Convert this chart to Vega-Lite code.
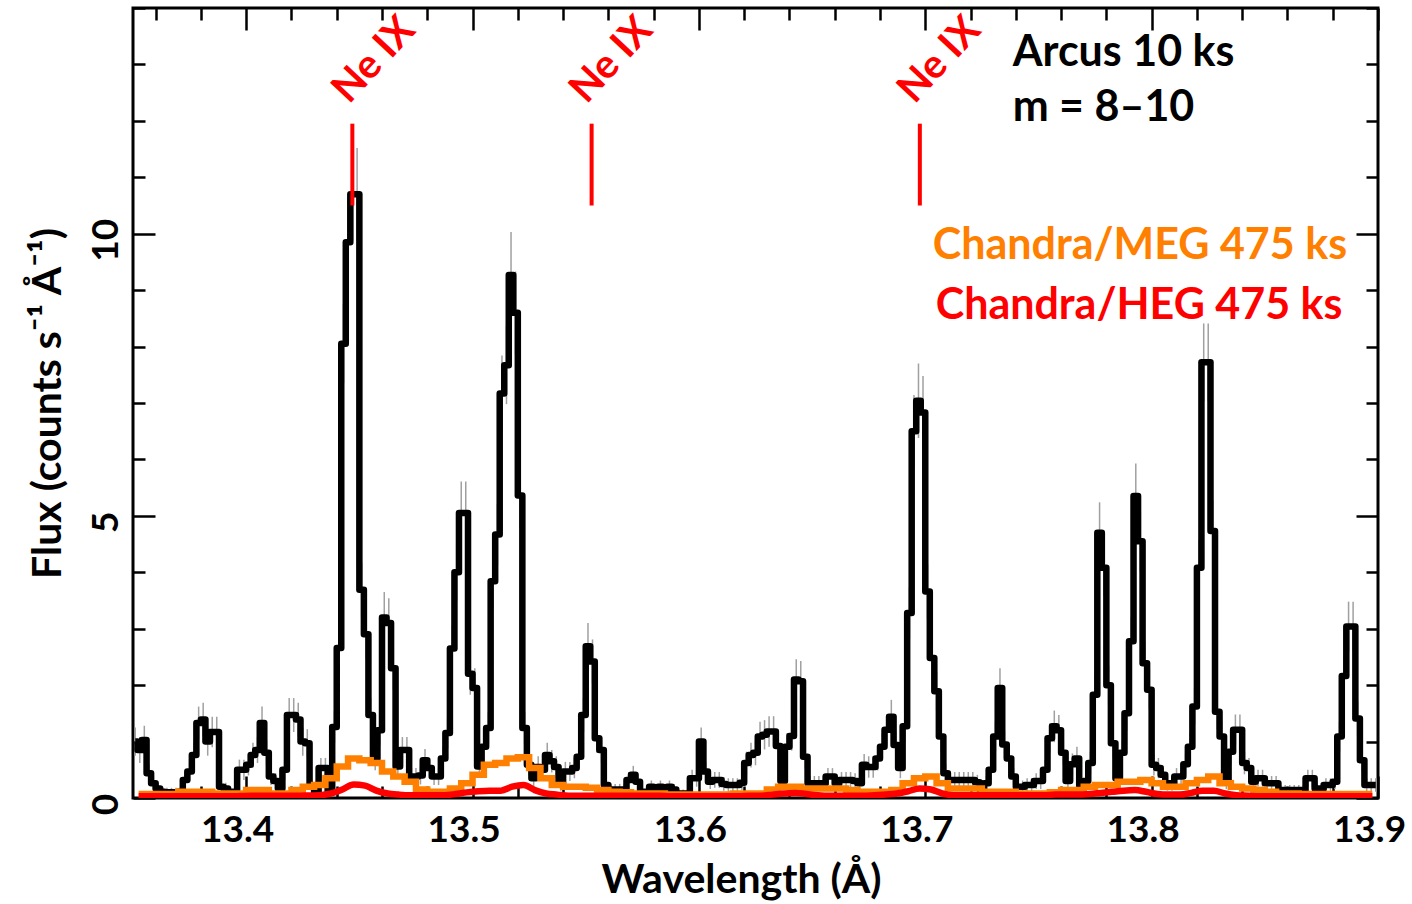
{
"$schema": "https://vega.github.io/schema/vega-lite/v6.json",
"width": 1245, "height": 790,
"autosize": {"type": "none"},
"padding": {"left": 133, "top": 8, "right": 34, "bottom": 106},
"background": "white",
"config": {
  "view": {"stroke": "black", "strokeWidth": 3},
  "axis": {"domain": false, "grid": false, "tickColor": "black", "tickWidth": 2.5,
    "labelFont": "Lato", "labelFontWeight": "bold", "labelFontSize": 37, "labelColor": "black",
    "titleFont": "Lato", "titleFontWeight": "bold", "titleFontSize": 41, "titleColor": "black"}
},
"datasets": {
"arcus": [
{"w":13.351,"f":1.0,"e":0.25},{"w":13.353,"f":0.85,"e":0.23},{"w":13.355,"f":1.03,"e":0.25},{"w":13.357,"f":0.44,"e":0.16},{"w":13.359,"f":0.26,"e":0.13},
{"w":13.361,"f":0.17,"e":0.11},{"w":13.363,"f":0.11,"e":0.08},{"w":13.365,"f":0.1,"e":0.08},{"w":13.367,"f":0.1,"e":0.08},{"w":13.369,"f":0.1,"e":0.08},
{"w":13.371,"f":0.11,"e":0.08},{"w":13.373,"f":0.32,"e":0.14},{"w":13.375,"f":0.47,"e":0.17},{"w":13.377,"f":0.76,"e":0.22},{"w":13.379,"f":1.33,"e":0.29},
{"w":13.381,"f":1.39,"e":0.3},{"w":13.383,"f":1.0,"e":0.25},{"w":13.385,"f":1.17,"e":0.27},{"w":13.387,"f":1.17,"e":0.27},{"w":13.389,"f":0.2,"e":0.11},
{"w":13.391,"f":0.17,"e":0.1},{"w":13.393,"f":0.11,"e":0.08},{"w":13.395,"f":0.11,"e":0.08},{"w":13.397,"f":0.5,"e":0.18},{"w":13.399,"f":0.5,"e":0.18},
{"w":13.401,"f":0.59,"e":0.19},{"w":13.403,"f":0.76,"e":0.22},{"w":13.405,"f":0.85,"e":0.23},{"w":13.407,"f":1.33,"e":0.29},{"w":13.409,"f":0.8,"e":0.22},
{"w":13.411,"f":0.38,"e":0.15},{"w":13.413,"f":0.3,"e":0.14},{"w":13.415,"f":0.17,"e":0.1},{"w":13.417,"f":0.5,"e":0.18},{"w":13.419,"f":1.47,"e":0.3},
{"w":13.421,"f":1.47,"e":0.3},{"w":13.423,"f":1.39,"e":0.3},{"w":13.425,"f":1.0,"e":0.25},{"w":13.427,"f":0.97,"e":0.25},{"w":13.429,"f":0.2,"e":0.11},
{"w":13.431,"f":0.11,"e":0.08},{"w":13.433,"f":0.53,"e":0.18},{"w":13.435,"f":0.53,"e":0.18},{"w":13.437,"f":0.11,"e":0.08},{"w":13.439,"f":1.26,"e":0.28},
{"w":13.441,"f":2.66,"e":0.41},{"w":13.443,"f":8.05,"e":0.7},{"w":13.445,"f":9.85,"e":0.78},{"w":13.447,"f":10.7,"e":0.82},{"w":13.449,"f":10.7,"e":0.82},
{"w":13.451,"f":3.69,"e":0.48},{"w":13.453,"f":2.9,"e":0.43},{"w":13.455,"f":1.47,"e":0.3},{"w":13.457,"f":0.7,"e":0.21},{"w":13.459,"f":1.2,"e":0.27},
{"w":13.461,"f":3.2,"e":0.45},{"w":13.463,"f":3.1,"e":0.44},{"w":13.465,"f":2.3,"e":0.38},{"w":13.467,"f":0.56,"e":0.19},{"w":13.469,"f":0.85,"e":0.23},
{"w":13.471,"f":0.85,"e":0.23},{"w":13.473,"f":0.38,"e":0.15},{"w":13.475,"f":0.38,"e":0.15},{"w":13.477,"f":0.4,"e":0.16},{"w":13.479,"f":0.67,"e":0.2},
{"w":13.481,"f":0.53,"e":0.18},{"w":13.483,"f":0.38,"e":0.15},{"w":13.485,"f":0.38,"e":0.15},{"w":13.487,"f":0.7,"e":0.21},{"w":13.489,"f":1.15,"e":0.27},
{"w":13.491,"f":2.65,"e":0.41},{"w":13.493,"f":4.0,"e":0.5},{"w":13.495,"f":5.05,"e":0.56},{"w":13.497,"f":5.05,"e":0.56},{"w":13.499,"f":2.2,"e":0.37},
{"w":13.501,"f":1.95,"e":0.35},{"w":13.503,"f":0.56,"e":0.19},{"w":13.505,"f":0.91,"e":0.24},{"w":13.507,"f":1.24,"e":0.28},{"w":13.509,"f":3.84,"e":0.49},
{"w":13.511,"f":4.67,"e":0.54},{"w":13.513,"f":7.17,"e":0.67},{"w":13.515,"f":7.67,"e":0.69},{"w":13.517,"f":9.27,"e":0.76},{"w":13.519,"f":8.6,"e":0.73},
{"w":13.521,"f":5.36,"e":0.58},{"w":13.523,"f":1.24,"e":0.28},{"w":13.525,"f":0.59,"e":0.19},{"w":13.527,"f":0.35,"e":0.15},{"w":13.529,"f":0.55,"e":0.19},
{"w":13.531,"f":0.5,"e":0.18},{"w":13.533,"f":0.76,"e":0.22},{"w":13.535,"f":0.65,"e":0.2},{"w":13.537,"f":0.55,"e":0.19},{"w":13.539,"f":0.26,"e":0.13},
{"w":13.541,"f":0.47,"e":0.17},{"w":13.543,"f":0.47,"e":0.17},{"w":13.545,"f":0.53,"e":0.18},{"w":13.547,"f":0.73,"e":0.21},{"w":13.549,"f":1.47,"e":0.3},
{"w":13.551,"f":2.69,"e":0.41},{"w":13.553,"f":2.42,"e":0.39},{"w":13.555,"f":1.06,"e":0.26},{"w":13.557,"f":0.85,"e":0.23},{"w":13.559,"f":0.23,"e":0.12},
{"w":13.561,"f":0.15,"e":0.1},{"w":13.563,"f":0.15,"e":0.1},{"w":13.565,"f":0.15,"e":0.1},{"w":13.567,"f":0.15,"e":0.1},{"w":13.569,"f":0.32,"e":0.14},
{"w":13.571,"f":0.41,"e":0.16},{"w":13.573,"f":0.29,"e":0.13},{"w":13.575,"f":0.11,"e":0.08},{"w":13.577,"f":0.11,"e":0.08},{"w":13.579,"f":0.2,"e":0.11},
{"w":13.581,"f":0.15,"e":0.1},{"w":13.583,"f":0.2,"e":0.11},{"w":13.585,"f":0.13,"e":0.09},{"w":13.587,"f":0.2,"e":0.11},{"w":13.589,"f":0.15,"e":0.1},
{"w":13.591,"f":0.08,"e":0.07},{"w":13.593,"f":0.08,"e":0.07},{"w":13.595,"f":0.08,"e":0.07},{"w":13.597,"f":0.35,"e":0.15},{"w":13.599,"f":0.35,"e":0.15},
{"w":13.601,"f":1.0,"e":0.25},{"w":13.603,"f":0.47,"e":0.17},{"w":13.605,"f":0.29,"e":0.13},{"w":13.607,"f":0.32,"e":0.14},{"w":13.609,"f":0.32,"e":0.14},
{"w":13.611,"f":0.25,"e":0.12},{"w":13.613,"f":0.23,"e":0.12},{"w":13.615,"f":0.23,"e":0.12},{"w":13.617,"f":0.23,"e":0.12},{"w":13.619,"f":0.27,"e":0.13},
{"w":13.621,"f":0.62,"e":0.2},{"w":13.623,"f":0.76,"e":0.22},{"w":13.625,"f":0.8,"e":0.22},{"w":13.627,"f":1.09,"e":0.26},{"w":13.629,"f":1.12,"e":0.26},
{"w":13.631,"f":1.18,"e":0.27},{"w":13.633,"f":1.18,"e":0.27},{"w":13.635,"f":0.92,"e":0.24},{"w":13.637,"f":0.3,"e":0.14},{"w":13.639,"f":0.91,"e":0.24},
{"w":13.641,"f":1.1,"e":0.26},{"w":13.643,"f":2.1,"e":0.36},{"w":13.645,"f":2.07,"e":0.36},{"w":13.647,"f":0.73,"e":0.21},{"w":13.649,"f":0.26,"e":0.13},
{"w":13.651,"f":0.26,"e":0.13},{"w":13.653,"f":0.26,"e":0.13},{"w":13.655,"f":0.26,"e":0.13},{"w":13.657,"f":0.38,"e":0.15},{"w":13.659,"f":0.38,"e":0.15},
{"w":13.661,"f":0.26,"e":0.13},{"w":13.663,"f":0.32,"e":0.14},{"w":13.665,"f":0.32,"e":0.14},{"w":13.667,"f":0.32,"e":0.14},{"w":13.669,"f":0.3,"e":0.14},
{"w":13.671,"f":0.26,"e":0.13},{"w":13.673,"f":0.59,"e":0.19},{"w":13.675,"f":0.55,"e":0.19},{"w":13.677,"f":0.55,"e":0.19},{"w":13.679,"f":0.7,"e":0.21},
{"w":13.681,"f":0.91,"e":0.24},{"w":13.683,"f":1.21,"e":0.27},{"w":13.685,"f":1.44,"e":0.3},{"w":13.687,"f":0.94,"e":0.24},{"w":13.689,"f":0.53,"e":0.18},
{"w":13.691,"f":1.27,"e":0.28},{"w":13.693,"f":3.28,"e":0.45},{"w":13.695,"f":6.5,"e":0.64},{"w":13.697,"f":7.04,"e":0.66},{"w":13.699,"f":6.83,"e":0.65},
{"w":13.701,"f":3.66,"e":0.48},{"w":13.703,"f":2.48,"e":0.39},{"w":13.705,"f":1.89,"e":0.34},{"w":13.707,"f":1.09,"e":0.26},{"w":13.709,"f":0.44,"e":0.17},
{"w":13.711,"f":0.32,"e":0.14},{"w":13.713,"f":0.32,"e":0.14},{"w":13.715,"f":0.32,"e":0.14},{"w":13.717,"f":0.32,"e":0.14},{"w":13.719,"f":0.32,"e":0.14},
{"w":13.721,"f":0.32,"e":0.14},{"w":13.723,"f":0.28,"e":0.13},{"w":13.725,"f":0.15,"e":0.1},{"w":13.727,"f":0.26,"e":0.13},{"w":13.729,"f":0.5,"e":0.18},
{"w":13.731,"f":1.09,"e":0.26},{"w":13.733,"f":1.95,"e":0.35},{"w":13.735,"f":0.95,"e":0.24},{"w":13.737,"f":0.7,"e":0.21},{"w":13.739,"f":0.38,"e":0.15},
{"w":13.741,"f":0.2,"e":0.11},{"w":13.743,"f":0.2,"e":0.11},{"w":13.745,"f":0.23,"e":0.12},{"w":13.747,"f":0.23,"e":0.12},{"w":13.749,"f":0.3,"e":0.14},
{"w":13.751,"f":0.3,"e":0.14},{"w":13.753,"f":0.5,"e":0.18},{"w":13.755,"f":1.06,"e":0.26},{"w":13.757,"f":1.27,"e":0.28},{"w":13.759,"f":1.2,"e":0.27},
{"w":13.761,"f":0.8,"e":0.22},{"w":13.763,"f":0.3,"e":0.14},{"w":13.765,"f":0.6,"e":0.19},{"w":13.767,"f":0.7,"e":0.21},{"w":13.769,"f":0.22,"e":0.12},
{"w":13.771,"f":0.3,"e":0.14},{"w":13.773,"f":0.62,"e":0.2},{"w":13.775,"f":1.83,"e":0.34},{"w":13.777,"f":4.7,"e":0.54},{"w":13.779,"f":4.08,"e":0.5},
{"w":13.781,"f":2.0,"e":0.35},{"w":13.783,"f":0.97,"e":0.25},{"w":13.785,"f":0.35,"e":0.15},{"w":13.787,"f":0.8,"e":0.22},{"w":13.789,"f":1.5,"e":0.31},
{"w":13.791,"f":2.78,"e":0.42},{"w":13.793,"f":5.35,"e":0.58},{"w":13.795,"f":4.55,"e":0.53},{"w":13.797,"f":2.39,"e":0.39},{"w":13.799,"f":1.92,"e":0.35},
{"w":13.801,"f":0.59,"e":0.19},{"w":13.803,"f":0.53,"e":0.18},{"w":13.805,"f":0.41,"e":0.16},{"w":13.807,"f":0.26,"e":0.13},{"w":13.809,"f":0.26,"e":0.13},
{"w":13.811,"f":0.38,"e":0.15},{"w":13.813,"f":0.38,"e":0.15},{"w":13.815,"f":0.6,"e":0.19},{"w":13.817,"f":0.91,"e":0.24},{"w":13.819,"f":1.62,"e":0.32},
{"w":13.821,"f":4.08,"e":0.5},{"w":13.823,"f":7.72,"e":0.69},{"w":13.825,"f":7.72,"e":0.69},{"w":13.827,"f":4.73,"e":0.54},{"w":13.829,"f":1.53,"e":0.31},
{"w":13.831,"f":1.09,"e":0.26},{"w":13.833,"f":0.3,"e":0.14},{"w":13.835,"f":0.82,"e":0.23},{"w":13.837,"f":1.21,"e":0.27},{"w":13.839,"f":1.21,"e":0.27},
{"w":13.841,"f":0.62,"e":0.2},{"w":13.843,"f":0.53,"e":0.18},{"w":13.845,"f":0.29,"e":0.13},{"w":13.847,"f":0.35,"e":0.15},{"w":13.849,"f":0.35,"e":0.15},
{"w":13.851,"f":0.26,"e":0.13},{"w":13.853,"f":0.26,"e":0.13},{"w":13.855,"f":0.26,"e":0.13},{"w":13.857,"f":0.14,"e":0.09},{"w":13.859,"f":0.14,"e":0.09},
{"w":13.861,"f":0.14,"e":0.09},{"w":13.863,"f":0.14,"e":0.09},{"w":13.865,"f":0.14,"e":0.09},{"w":13.867,"f":0.14,"e":0.09},{"w":13.869,"f":0.35,"e":0.15},
{"w":13.871,"f":0.35,"e":0.15},{"w":13.873,"f":0.17,"e":0.1},{"w":13.875,"f":0.17,"e":0.1},{"w":13.877,"f":0.23,"e":0.12},{"w":13.879,"f":0.23,"e":0.12},
{"w":13.881,"f":0.29,"e":0.13},{"w":13.883,"f":1.09,"e":0.26},{"w":13.885,"f":2.16,"e":0.37},{"w":13.887,"f":3.04,"e":0.44},{"w":13.889,"f":3.04,"e":0.44},
{"w":13.891,"f":1.41,"e":0.3},{"w":13.893,"f":0.67,"e":0.2},{"w":13.895,"f":0.23,"e":0.12},{"w":13.897,"f":0.23,"e":0.12},{"w":13.899,"f":0.23,"e":0.12}
],
"chandra": [
{"w":13.3525,"meg":0.07,"heg":0.03},{"w":13.3575,"meg":0.07,"heg":0.03},{"w":13.3625,"meg":0.07,"heg":0.03},{"w":13.3675,"meg":0.07,"heg":0.03},{"w":13.3725,"meg":0.11,"heg":0.03},
{"w":13.3775,"meg":0.11,"heg":0.03},{"w":13.3825,"meg":0.11,"heg":0.03},{"w":13.3875,"meg":0.08,"heg":0.03},{"w":13.3925,"meg":0.08,"heg":0.03},{"w":13.3975,"meg":0.08,"heg":0.035},
{"w":13.4025,"meg":0.14,"heg":0.04},{"w":13.4075,"meg":0.14,"heg":0.04},{"w":13.4125,"meg":0.08,"heg":0.04},{"w":13.4175,"meg":0.08,"heg":0.04},{"w":13.4225,"meg":0.14,"heg":0.04},
{"w":13.4275,"meg":0.2,"heg":0.045},{"w":13.4325,"meg":0.23,"heg":0.05},{"w":13.4375,"meg":0.35,"heg":0.08},{"w":13.4425,"meg":0.56,"heg":0.15},{"w":13.4475,"meg":0.7,"heg":0.24},
{"w":13.4525,"meg":0.67,"heg":0.22},{"w":13.4575,"meg":0.62,"heg":0.13},{"w":13.4625,"meg":0.47,"heg":0.08},{"w":13.4675,"meg":0.38,"heg":0.06},{"w":13.4725,"meg":0.29,"heg":0.05},
{"w":13.4775,"meg":0.15,"heg":0.05},{"w":13.4825,"meg":0.11,"heg":0.05},{"w":13.4875,"meg":0.11,"heg":0.05},{"w":13.4925,"meg":0.17,"heg":0.07},{"w":13.4975,"meg":0.26,"heg":0.1},
{"w":13.5025,"meg":0.41,"heg":0.12},{"w":13.5075,"meg":0.59,"heg":0.13},{"w":13.5125,"meg":0.62,"heg":0.13},{"w":13.5175,"meg":0.7,"heg":0.2},{"w":13.5225,"meg":0.72,"heg":0.23},
{"w":13.5275,"meg":0.53,"heg":0.14},{"w":13.5325,"meg":0.35,"heg":0.08},{"w":13.5375,"meg":0.23,"heg":0.06},{"w":13.5425,"meg":0.2,"heg":0.04},{"w":13.5475,"meg":0.2,"heg":0.04},
{"w":13.5525,"meg":0.18,"heg":0.04},{"w":13.5575,"meg":0.14,"heg":0.04},{"w":13.5625,"meg":0.11,"heg":0.04},{"w":13.5675,"meg":0.1,"heg":0.04},{"w":13.5725,"meg":0.08,"heg":0.04},
{"w":13.5775,"meg":0.08,"heg":0.04},{"w":13.5825,"meg":0.08,"heg":0.04},{"w":13.5875,"meg":0.06,"heg":0.03},{"w":13.5925,"meg":0.06,"heg":0.03},{"w":13.5975,"meg":0.06,"heg":0.03},
{"w":13.6025,"meg":0.06,"heg":0.03},{"w":13.6075,"meg":0.06,"heg":0.03},{"w":13.6125,"meg":0.06,"heg":0.03},{"w":13.6175,"meg":0.08,"heg":0.03},{"w":13.6225,"meg":0.08,"heg":0.04},
{"w":13.6275,"meg":0.08,"heg":0.04},{"w":13.6325,"meg":0.15,"heg":0.06},{"w":13.6375,"meg":0.2,"heg":0.08},{"w":13.6425,"meg":0.2,"heg":0.09},{"w":13.6475,"meg":0.17,"heg":0.07},
{"w":13.6525,"meg":0.17,"heg":0.05},{"w":13.6575,"meg":0.17,"heg":0.04},{"w":13.6625,"meg":0.17,"heg":0.04},{"w":13.6675,"meg":0.14,"heg":0.04},{"w":13.6725,"meg":0.11,"heg":0.04},
{"w":13.6775,"meg":0.11,"heg":0.05},{"w":13.6825,"meg":0.11,"heg":0.06},{"w":13.6875,"meg":0.14,"heg":0.08},{"w":13.6925,"meg":0.26,"heg":0.12},{"w":13.6975,"meg":0.35,"heg":0.17},
{"w":13.7025,"meg":0.38,"heg":0.15},{"w":13.7075,"meg":0.26,"heg":0.08},{"w":13.7125,"meg":0.17,"heg":0.05},{"w":13.7175,"meg":0.17,"heg":0.05},{"w":13.7225,"meg":0.17,"heg":0.05},
{"w":13.7275,"meg":0.11,"heg":0.05},{"w":13.7325,"meg":0.11,"heg":0.05},{"w":13.7375,"meg":0.11,"heg":0.05},{"w":13.7425,"meg":0.08,"heg":0.05},{"w":13.7475,"meg":0.08,"heg":0.05},
{"w":13.7525,"meg":0.08,"heg":0.05},{"w":13.7575,"meg":0.1,"heg":0.06},{"w":13.7625,"meg":0.14,"heg":0.06},{"w":13.7675,"meg":0.14,"heg":0.06},{"w":13.7725,"meg":0.2,"heg":0.07},
{"w":13.7775,"meg":0.23,"heg":0.09},{"w":13.7825,"meg":0.23,"heg":0.11},{"w":13.7875,"meg":0.29,"heg":0.13},{"w":13.7925,"meg":0.29,"heg":0.14},{"w":13.7975,"meg":0.32,"heg":0.11},
{"w":13.8025,"meg":0.26,"heg":0.07},{"w":13.8075,"meg":0.2,"heg":0.06},{"w":13.8125,"meg":0.2,"heg":0.06},{"w":13.8175,"meg":0.26,"heg":0.09},{"w":13.8225,"meg":0.32,"heg":0.13},
{"w":13.8275,"meg":0.38,"heg":0.13},{"w":13.8325,"meg":0.26,"heg":0.08},{"w":13.8375,"meg":0.2,"heg":0.05},{"w":13.8425,"meg":0.17,"heg":0.04},{"w":13.8475,"meg":0.14,"heg":0.03},
{"w":13.8525,"meg":0.11,"heg":0.03},{"w":13.8575,"meg":0.08,"heg":0.03},{"w":13.8625,"meg":0.08,"heg":0.03},{"w":13.8675,"meg":0.07,"heg":0.03},{"w":13.8725,"meg":0.07,"heg":0.03},
{"w":13.8775,"meg":0.07,"heg":0.03},{"w":13.8825,"meg":0.07,"heg":0.03},{"w":13.8875,"meg":0.07,"heg":0.03},{"w":13.8925,"meg":0.07,"heg":0.03},{"w":13.8975,"meg":0.07,"heg":0.03}
],
"lines": [
{"w":13.4469,"lo":10.5,"hi":11.95,"lw":13.4566,"lv":13.08,"t":"Ne IX"},
{"w":13.5526,"lo":10.5,"hi":11.95,"lw":13.5615,"lv":13.08,"t":"Ne IX"},
{"w":13.6976,"lo":10.5,"hi":11.95,"lw":13.7064,"lv":13.08,"t":"Ne IX"}
],
"notes": [
{"w":13.7386,"v":12.97,"t":"Arcus 10 ks","g":"arcus"},
{"w":13.7386,"v":11.99,"t":"m = 8–10","g":"arcus"},
{"w":13.7033,"v":9.56,"t":"Chandra/MEG 475 ks","g":"meg"},
{"w":13.7046,"v":8.49,"t":"Chandra/HEG 475 ks","g":"heg"}
]
},
"layer": [
{
  "data": {"name": "arcus"},
  "mark": {"type": "errorbar", "color": "#a0a0a0", "thickness": 1.5},
  "encoding": {
    "x": {"field": "w", "type": "quantitative", "scale": {"domain": [13.35, 13.9], "nice": false, "zero": false}, "axis": null},
    "y": {"field": "f", "type": "quantitative", "scale": {"domain": [0, 14], "nice": false}, "axis": null},
    "yError": {"field": "e"}
  }
},
{
  "data": {"name": "arcus"},
  "mark": {"type": "line", "interpolate": "step", "color": "black", "strokeWidth": 6.5, "strokeJoin": "round", "clip": true},
  "encoding": {
    "x": {"field": "w", "type": "quantitative", "scale": {"domain": [13.35, 13.9], "nice": false, "zero": false},
      "axis": {"orient": "bottom", "title": "Wavelength (Å)", "values": [13.36,13.38,13.4,13.42,13.44,13.46,13.48,13.5,13.52,13.54,13.56,13.58,13.6,13.62,13.64,13.66,13.68,13.7,13.72,13.74,13.76,13.78,13.8,13.82,13.84,13.86,13.88,13.9],
        "tickSize": {"condition": {"test": "abs(datum.value*10 - round(datum.value*10)) < 0.001", "value": -22}, "value": -12},
        "labelExpr": "abs(datum.value*10 - round(datum.value*10)) < 0.001 ? format(datum.value, '.1f') : ''",
        "labelPadding": 36, "labelOffset": -9, "labelFlush": false, "labelOverlap": false, "titlePadding": 2, "titleX": 608}},
    "y": {"field": "f", "type": "quantitative", "scale": {"domain": [0, 14], "nice": false},
      "axis": {"orient": "left", "title": "Flux (counts s⁻¹ Å⁻¹)", "values": [0,1,2,3,4,5,6,7,8,9,10,11,12,13,14],
        "tickSize": {"condition": {"test": "datum.value % 5 == 0", "value": -22}, "value": -12},
        "labelExpr": "datum.value % 5 == 0 ? datum.label : ''",
        "labelAngle": -90, "labelAlign": "center", "labelBaseline": "bottom", "labelPadding": 30, "labelOffset": 6, "labelOverlap": false, "titlePadding": 8}}
  }
},
{
  "data": {"name": "chandra"},
  "mark": {"type": "line", "interpolate": "step", "color": "#FF8000", "strokeWidth": 6.5, "clip": true},
  "encoding": {
    "x": {"field": "w", "type": "quantitative", "scale": {"domain": [13.35, 13.9], "nice": false, "zero": false},
      "axis": {"orient": "top", "title": null, "labels": false, "values": [13.36,13.38,13.4,13.42,13.44,13.46,13.48,13.5,13.52,13.54,13.56,13.58,13.6,13.62,13.64,13.66,13.68,13.7,13.72,13.74,13.76,13.78,13.8,13.82,13.84,13.86,13.88,13.9],
        "tickSize": {"condition": {"test": "abs(datum.value*10 - round(datum.value*10)) < 0.001", "value": -22}, "value": -12}}},
    "y": {"field": "meg", "type": "quantitative", "scale": {"domain": [0, 14], "nice": false},
      "axis": {"orient": "right", "title": null, "labels": false, "values": [0,1,2,3,4,5,6,7,8,9,10,11,12,13,14],
        "tickSize": {"condition": {"test": "datum.value % 5 == 0", "value": -22}, "value": -12}}}
  }
},
{
  "data": {"name": "chandra"},
  "mark": {"type": "line", "interpolate": "monotone", "color": "#FF0000", "strokeWidth": 6.5, "clip": true},
  "encoding": {
    "x": {"field": "w", "type": "quantitative", "scale": {"domain": [13.35, 13.9], "nice": false, "zero": false}, "axis": null},
    "y": {"field": "heg", "type": "quantitative", "scale": {"domain": [0, 14], "nice": false}, "axis": null}
  }
},
{
  "data": {"name": "lines"},
  "mark": {"type": "rule", "color": "#FF0000", "strokeWidth": 4},
  "encoding": {
    "x": {"field": "w", "type": "quantitative", "scale": {"domain": [13.35, 13.9], "nice": false, "zero": false}, "axis": null},
    "y": {"field": "lo", "type": "quantitative", "scale": {"domain": [0, 14], "nice": false}, "axis": null},
    "y2": {"field": "hi"}
  }
},
{
  "data": {"name": "lines"},
  "mark": {"type": "text", "color": "#FF0000", "angle": -47, "align": "center", "baseline": "middle", "fontSize": 40, "fontWeight": "bold", "font": "Lato"},
  "encoding": {
    "x": {"field": "lw", "type": "quantitative", "scale": {"domain": [13.35, 13.9], "nice": false, "zero": false}, "axis": null},
    "y": {"field": "lv", "type": "quantitative", "scale": {"domain": [0, 14], "nice": false}, "axis": null},
    "text": {"field": "t"}
  }
},
{
  "data": {"name": "notes"},
  "mark": {"type": "text", "align": "left", "baseline": "alphabetic", "fontSize": 43, "fontWeight": "bold", "font": "Lato"},
  "encoding": {
    "x": {"field": "w", "type": "quantitative", "scale": {"domain": [13.35, 13.9], "nice": false, "zero": false}, "axis": null},
    "y": {"field": "v", "type": "quantitative", "scale": {"domain": [0, 14], "nice": false}, "axis": null},
    "text": {"field": "t"},
    "color": {"field": "g", "type": "nominal", "scale": {"domain": ["arcus", "meg", "heg"], "range": ["#000000", "#FF8000", "#FF0000"]}, "legend": null}
  }
}
]
}
